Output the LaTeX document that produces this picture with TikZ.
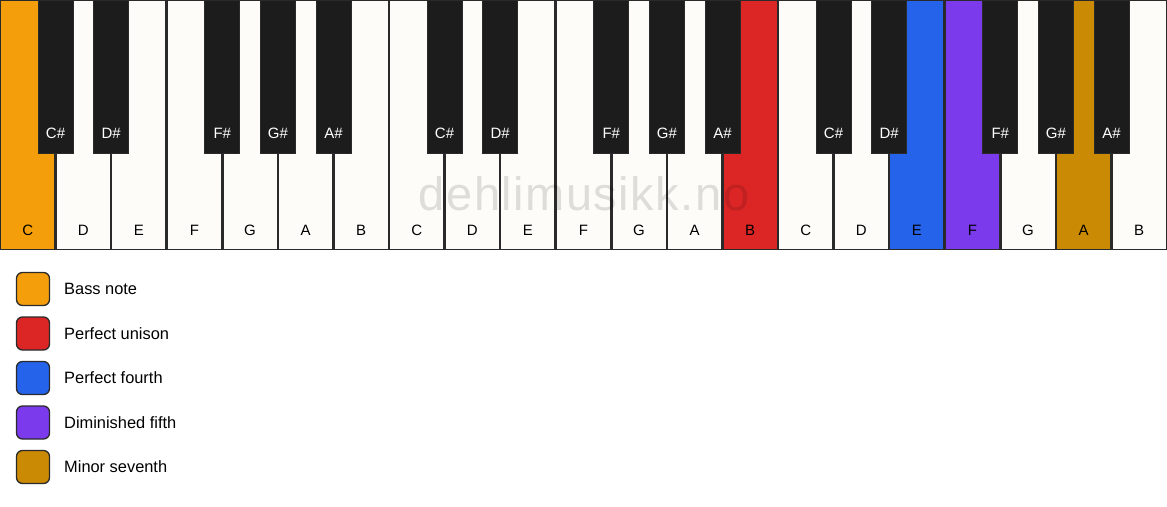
\documentclass[tikz,border=0pt]{standalone}
\usepackage{fontspec}
\setmainfont{Liberation Sans}
\definecolor{cbass}{HTML}{F59E0B}
\definecolor{cred}{HTML}{DC2626}
\definecolor{cblue}{HTML}{2563EB}
\definecolor{cpurple}{HTML}{7C3AED}
\definecolor{cgold}{HTML}{CA8A04}
\definecolor{cwhite}{HTML}{FDFCF9}
\definecolor{cblack}{HTML}{1C1C1C}
\definecolor{cline}{HTML}{2A2A2A}
\tikzset{
  whitekey/.style={draw=cline, line width=1.3pt, fill=cwhite},
  blackkey/.style={draw=cline, line width=0.8pt, fill=cblack},
  wlabel/.style={font=\fontsize{15}{18}\selectfont, text=black},
  blabel/.style={font=\fontsize{15}{18}\selectfont, text=white},
  legbox/.style={draw=cline, line width=1.3pt, rounded corners=6pt, minimum width=33pt, minimum height=33pt, inner sep=0pt},
  legtext/.style={font=\fontsize{16.4}{19}\selectfont, anchor=west, inner sep=0pt},
}
\begin{document}
\begin{tikzpicture}[x=1pt,y=-1pt]
\useasboundingbox (0,0) rectangle (1167,506);
\fill[white] (0,0) rectangle (1167,506);
\def\kw{55.571}
% white keys
\foreach \i/\n/\c in {0/C/cbass,1/D/cwhite,2/E/cwhite,3/F/cwhite,4/G/cwhite,5/A/cwhite,6/B/cwhite,
  7/C/cwhite,8/D/cwhite,9/E/cwhite,10/F/cwhite,11/G/cwhite,12/A/cwhite,13/B/cred,
  14/C/cwhite,15/D/cwhite,16/E/cblue,17/F/cpurple,18/G/cwhite,19/A/cgold,20/B/cwhite}{
  \draw[whitekey, fill=\c] ({\i*\kw+0.65},0.65) rectangle ({(\i+1)*\kw-0.65},249.5);
  \node[wlabel] (w\i) at ({(\i+0.5)*\kw},230) {\n};
}
% watermark
\node[font=\fontsize{47}{54}\selectfont\addfontfeature{LetterSpace=3.2}, text=black, opacity=0.12, anchor=base, inner sep=0pt] (wm) at (584,210) {dehlimusikk.no};
% black keys
\foreach \b/\n in {1/C\#,2/D\#,4/F\#,5/G\#,6/A\#,8/C\#,9/D\#,11/F\#,12/G\#,13/A\#,15/C\#,16/D\#,18/F\#,19/G\#,20/A\#}{
  \draw[blackkey] ({\b*\kw-17.5},0.4) rectangle ({\b*\kw+17.5},153);
  \node[blabel] (b\b) at ({\b*\kw},133) {\n};
}
% legend
\foreach \k/\y/\c/\t in {1/289/cbass/Bass note,2/333.5/cred/Perfect unison,3/378/cblue/Perfect fourth,4/422.5/cpurple/Diminished fifth,5/467/cgold/Minor seventh}{
  \node[legbox, fill=\c] (l\k) at (33,\y) {};
  \node[legtext] (t\k) at (64,\y) {\t};
}
\end{tikzpicture}
\end{document}
